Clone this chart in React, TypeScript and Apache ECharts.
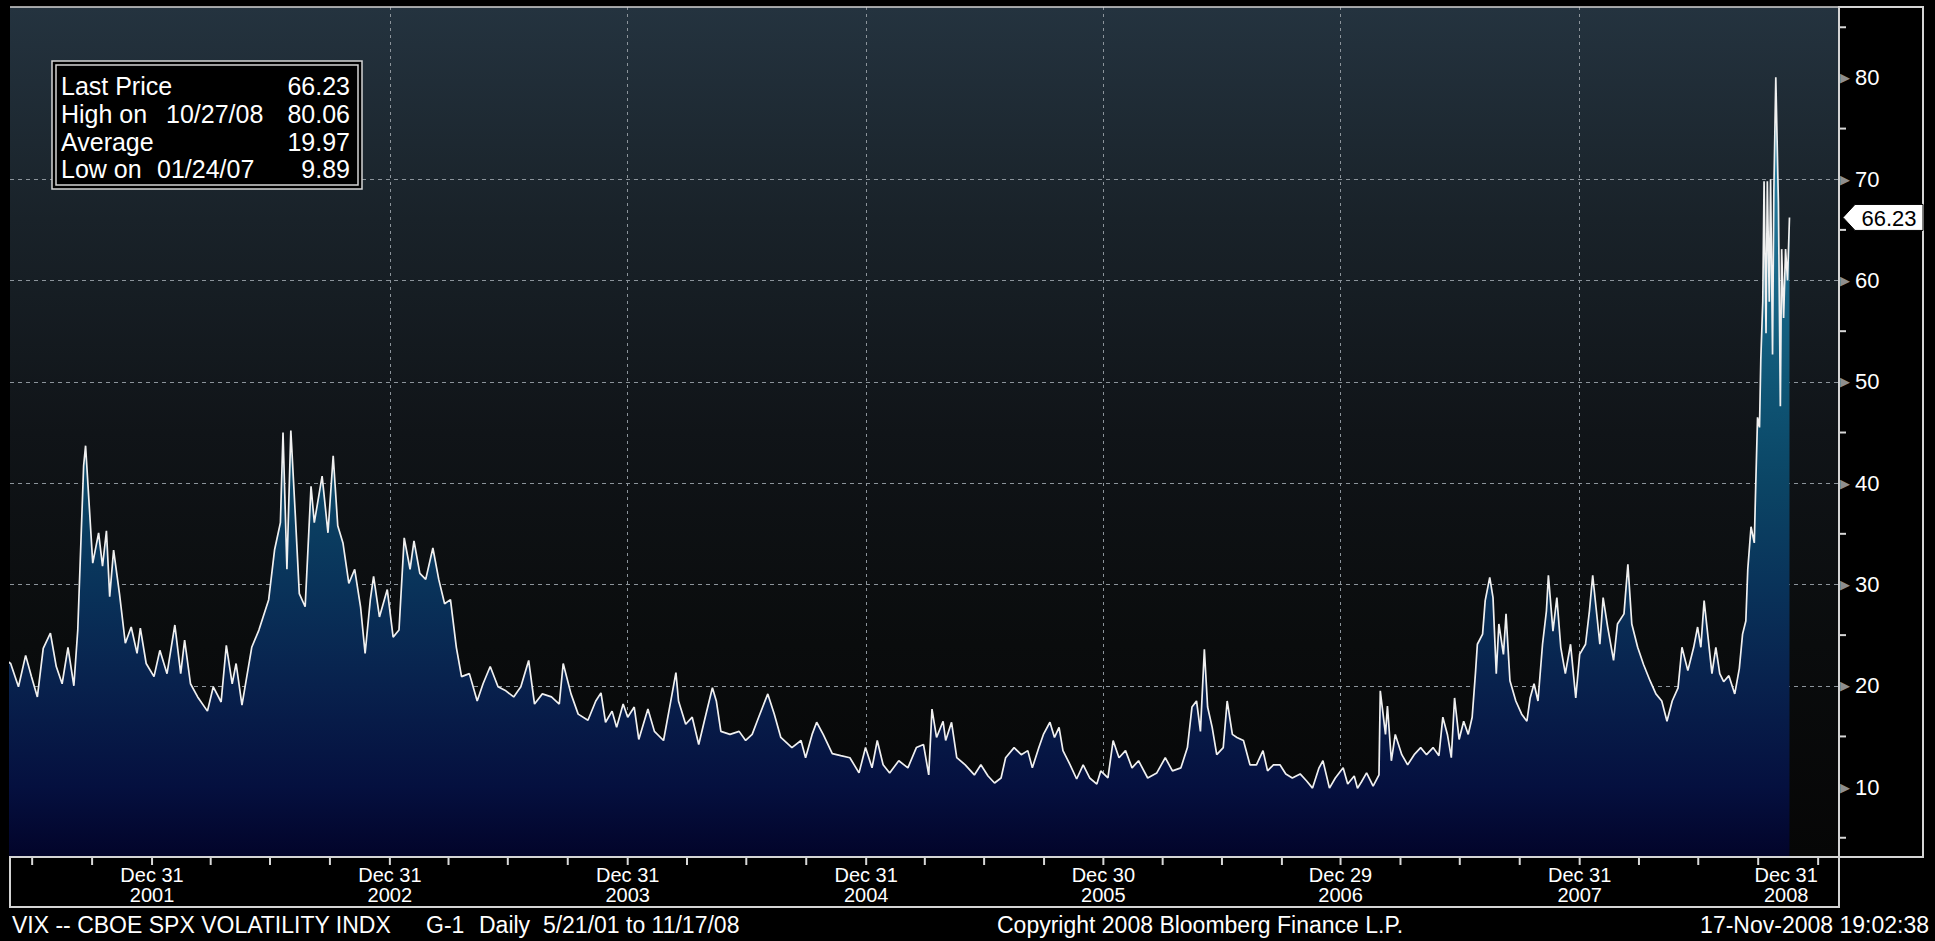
import React, { useEffect, useRef } from 'react';
import * as echarts from 'echarts';

const FONT = "'Liberation Sans', Arial, Helvetica, sans-serif";

// ---- VIX readings (date, value) ----
const VIX_2001: [string, number][] = [
  ['2001-05-21', 22.5], ['2001-05-28', 22.2], ['2001-06-09', 19.9], ['2001-06-20', 23.0], ['2001-06-29', 20.9],
  ['2001-07-08', 18.9], ['2001-07-17', 23.7], ['2001-07-28', 25.2], ['2001-08-06', 21.9], ['2001-08-15', 20.2],
  ['2001-08-24', 23.8], ['2001-09-02', 20.0], ['2001-09-08', 25.5], ['2001-09-17', 41.7], ['2001-09-20', 43.7],
  ['2001-09-25', 38.4], ['2001-10-01', 32.1], ['2001-10-10', 35.1], ['2001-10-16', 31.8], ['2001-10-22', 35.3],
  ['2001-10-27', 28.8], ['2001-11-02', 33.4], ['2001-11-11', 29.1], ['2001-11-20', 24.2], ['2001-11-29', 25.8],
  ['2001-12-08', 23.2], ['2001-12-13', 25.7], ['2001-12-22', 22.2],
];
const VIX_2002: [string, number][] = [
  ['2002-01-03', 20.9], ['2002-01-12', 23.5], ['2002-01-23', 21.2], ['2002-02-04', 26.0], ['2002-02-13', 21.2],
  ['2002-02-19', 24.5], ['2002-02-28', 20.2], ['2002-03-11', 18.9], ['2002-03-26', 17.5], ['2002-04-04', 19.9],
  ['2002-04-16', 18.4], ['2002-04-24', 24.0], ['2002-05-03', 20.2], ['2002-05-09', 22.2], ['2002-05-18', 18.1],
  ['2002-06-02', 23.8], ['2002-06-13', 25.5], ['2002-06-28', 28.5], ['2002-07-07', 33.4], ['2002-07-16', 36.1],
  ['2002-07-20', 45.0], ['2002-07-26', 31.5], ['2002-08-01', 45.2], ['2002-08-08', 36.7], ['2002-08-14', 29.1],
  ['2002-08-23', 27.8], ['2002-09-01', 39.7], ['2002-09-06', 36.1], ['2002-09-18', 40.7], ['2002-09-27', 35.1],
  ['2002-10-05', 42.7], ['2002-10-12', 35.8], ['2002-10-20', 34.1], ['2002-10-29', 30.1], ['2002-11-07', 31.5],
  ['2002-11-16', 27.8], ['2002-11-23', 23.2], ['2002-12-01', 28.5], ['2002-12-06', 30.8], ['2002-12-15', 26.8],
  ['2002-12-27', 29.5],
];
const VIX_2003: [string, number][] = [
  ['2003-01-05', 24.8], ['2003-01-14', 25.5], ['2003-01-22', 34.6], ['2003-01-31', 31.5], ['2003-02-06', 34.3],
  ['2003-02-15', 31.1], ['2003-02-24', 30.5], ['2003-03-07', 33.6], ['2003-03-16', 30.5], ['2003-03-25', 28.1],
  ['2003-04-03', 28.5], ['2003-04-12', 23.8], ['2003-04-20', 20.9], ['2003-05-02', 21.2], ['2003-05-14', 18.5],
  ['2003-05-23', 20.2], ['2003-06-03', 21.9], ['2003-06-15', 19.9], ['2003-06-27', 19.5], ['2003-07-09', 18.9],
  ['2003-07-20', 19.9], ['2003-08-01', 22.5], ['2003-08-10', 18.2], ['2003-08-22', 19.2], ['2003-09-05', 18.9],
  ['2003-09-17', 18.2], ['2003-09-23', 22.2], ['2003-10-05', 19.2], ['2003-10-16', 17.2], ['2003-10-31', 16.6],
  ['2003-11-12', 18.5], ['2003-11-20', 19.3], ['2003-11-27', 16.4], ['2003-12-07', 17.5], ['2003-12-14', 15.9],
  ['2003-12-24', 18.2], ['2003-12-31', 16.9],
];
const VIX_2004: [string, number][] = [
  ['2004-01-10', 17.9], ['2004-01-17', 14.7], ['2004-01-31', 17.7], ['2004-02-10', 15.5], ['2004-02-24', 14.6],
  ['2004-03-07', 18.8], ['2004-03-14', 21.3], ['2004-03-18', 18.5], ['2004-03-29', 16.2], ['2004-04-08', 16.9],
  ['2004-04-18', 14.2], ['2004-04-28', 16.9], ['2004-05-09', 19.8], ['2004-05-15', 18.5], ['2004-05-22', 15.5],
  ['2004-06-05', 15.2], ['2004-06-19', 15.5], ['2004-06-29', 14.6], ['2004-07-09', 15.2], ['2004-07-19', 16.9],
  ['2004-08-02', 19.2], ['2004-08-12', 17.2], ['2004-08-22', 14.9], ['2004-09-08', 13.9], ['2004-09-22', 14.6],
  ['2004-09-29', 12.9], ['2004-10-09', 15.2], ['2004-10-16', 16.4], ['2004-10-26', 15.2], ['2004-11-09', 13.3],
  ['2004-11-22', 13.1], ['2004-12-06', 12.9], ['2004-12-20', 11.4], ['2004-12-30', 13.9],
];
const VIX_2005: [string, number][] = [
  ['2005-01-09', 11.9], ['2005-01-17', 14.6], ['2005-01-26', 12.2], ['2005-02-05', 11.4], ['2005-02-19', 12.6],
  ['2005-03-05', 11.9], ['2005-03-18', 13.9], ['2005-03-29', 14.2], ['2005-04-06', 11.2], ['2005-04-11', 17.7],
  ['2005-04-18', 14.9], ['2005-04-28', 16.5], ['2005-05-02', 14.6], ['2005-05-11', 16.4], ['2005-05-19', 12.9],
  ['2005-06-01', 12.2], ['2005-06-15', 11.2], ['2005-06-25', 12.2], ['2005-07-06', 11.1], ['2005-07-16', 10.4],
  ['2005-07-26', 10.9], ['2005-08-02', 12.9], ['2005-08-15', 13.9], ['2005-08-26', 13.2], ['2005-09-05', 13.6],
  ['2005-09-12', 11.9], ['2005-09-22', 13.9], ['2005-09-29', 15.2], ['2005-10-09', 16.4], ['2005-10-16', 14.9],
  ['2005-10-23', 15.9], ['2005-10-29', 13.6], ['2005-11-09', 12.2], ['2005-11-19', 10.8], ['2005-11-29', 12.2],
  ['2005-12-09', 10.9], ['2005-12-20', 10.3], ['2005-12-26', 11.6],
];
const VIX_2006: [string, number][] = [
  ['2006-01-06', 10.9], ['2006-01-14', 14.6], ['2006-01-23', 12.9], ['2006-02-02', 13.6], ['2006-02-12', 11.9],
  ['2006-02-22', 12.6], ['2006-03-08', 10.9], ['2006-03-22', 11.4], ['2006-04-04', 12.9], ['2006-04-15', 11.6],
  ['2006-04-28', 11.9], ['2006-05-08', 13.9], ['2006-05-15', 17.9], ['2006-05-22', 18.5], ['2006-05-28', 15.5],
  ['2006-06-03', 23.6], ['2006-06-08', 17.9], ['2006-06-15', 15.9], ['2006-06-22', 13.2], ['2006-07-02', 13.9],
  ['2006-07-08', 18.5], ['2006-07-16', 15.2], ['2006-07-23', 14.9], ['2006-08-02', 14.6], ['2006-08-12', 12.2],
  ['2006-08-22', 12.2], ['2006-09-01', 13.6], ['2006-09-08', 11.6], ['2006-09-17', 12.2], ['2006-09-27', 12.2],
  ['2006-10-06', 11.3], ['2006-10-16', 10.9], ['2006-10-28', 11.3], ['2006-11-07', 10.6], ['2006-11-16', 9.9],
  ['2006-11-26', 11.9], ['2006-12-02', 12.6], ['2006-12-12', 9.9], ['2006-12-21', 10.9],
];
const VIX_2007: [string, number][] = [
  ['2007-01-02', 11.9], ['2007-01-09', 10.3], ['2007-01-19', 11.1], ['2007-01-24', 9.89], ['2007-01-30', 10.5],
  ['2007-02-07', 11.4], ['2007-02-17', 10.1], ['2007-02-26', 11.2], ['2007-02-28', 19.5], ['2007-03-08', 15.2],
  ['2007-03-11', 18.0], ['2007-03-17', 12.6], ['2007-03-23', 15.2], ['2007-04-02', 13.2], ['2007-04-11', 12.2],
  ['2007-04-21', 13.2], ['2007-05-01', 13.9], ['2007-05-10', 13.2], ['2007-05-20', 13.9], ['2007-05-29', 13.1],
  ['2007-06-04', 16.9], ['2007-06-11', 15.2], ['2007-06-17', 12.9], ['2007-06-22', 18.8], ['2007-06-29', 14.7],
  ['2007-07-06', 16.5], ['2007-07-13', 15.2], ['2007-07-19', 16.9], ['2007-07-24', 21.2], ['2007-07-27', 24.1],
  ['2007-08-04', 25.1], ['2007-08-08', 28.4], ['2007-08-15', 30.7], ['2007-08-20', 28.7], ['2007-08-25', 21.2],
  ['2007-08-29', 26.1], ['2007-09-05', 23.1], ['2007-09-09', 27.1], ['2007-09-15', 20.5], ['2007-09-24', 18.5],
  ['2007-10-03', 17.2], ['2007-10-11', 16.5], ['2007-10-16', 18.8], ['2007-10-22', 20.2], ['2007-10-28', 18.5],
  ['2007-11-04', 24.1], ['2007-11-10', 27.4], ['2007-11-13', 30.9], ['2007-11-20', 25.4], ['2007-11-26', 28.7],
  ['2007-12-02', 23.8], ['2007-12-09', 21.2], ['2007-12-17', 24.1], ['2007-12-25', 18.8], ['2007-12-31', 23.1],
];
const VIX_2008: [string, number][] = [
  ['2008-01-09', 24.1], ['2008-01-15', 27.4], ['2008-01-20', 30.9], ['2008-01-25', 27.8], ['2008-01-31', 24.1],
  ['2008-02-05', 28.7], ['2008-02-12', 25.8], ['2008-02-21', 22.5], ['2008-02-27', 26.1], ['2008-03-08', 27.1],
  ['2008-03-14', 32.0], ['2008-03-20', 26.1], ['2008-03-29', 23.8], ['2008-04-07', 22.1], ['2008-04-17', 20.5],
  ['2008-04-26', 19.2], ['2008-05-05', 18.5], ['2008-05-13', 16.5], ['2008-05-21', 18.5], ['2008-05-30', 19.8],
  ['2008-06-05', 23.8], ['2008-06-14', 21.5], ['2008-06-23', 23.8], ['2008-06-29', 25.8], ['2008-07-04', 23.8],
  ['2008-07-09', 28.4], ['2008-07-15', 24.8], ['2008-07-21', 21.2], ['2008-07-27', 23.8], ['2008-08-02', 21.2],
  ['2008-08-08', 20.4], ['2008-08-16', 21.0], ['2008-08-25', 19.2], ['2008-09-01', 21.7], ['2008-09-06', 25.1],
  ['2008-09-11', 26.4], ['2008-09-14', 31.5], ['2008-09-19', 35.7], ['2008-09-24', 34.1], ['2008-09-26', 39.3],
  ['2008-09-29', 46.5], ['2008-10-02', 45.5], ['2008-10-04', 52.2], ['2008-10-07', 57.9], ['2008-10-09', 69.8],
  ['2008-10-12', 54.8], ['2008-10-14', 69.8], ['2008-10-17', 57.9], ['2008-10-19', 70.0], ['2008-10-22', 52.7],
  ['2008-10-24', 68.7], ['2008-10-27', 80.06], ['2008-10-31', 67.7], ['2008-11-03', 47.6], ['2008-11-05', 63.1],
  ['2008-11-08', 56.3], ['2008-11-11', 63.1], ['2008-11-14', 60.0], ['2008-11-17', 66.23],
];

const X_TICK_DATES = ['2001-12-31', '2002-12-31', '2003-12-31', '2004-12-31', '2005-12-30', '2006-12-29', '2007-12-31', '2008-12-31'];
const X_TICK_LABELS = ['Dec 31\n2001', 'Dec 31\n2002', 'Dec 31\n2003', 'Dec 31\n2004', 'Dec 30\n2005', 'Dec 29\n2006', 'Dec 31\n2007', 'Dec 31\n2008'];
const Y_TICKS = [10, 20, 30, 40, 50, 60, 70, 80];
const Y_MINOR_TICKS = [5, 15, 25, 35, 45, 55, 65, 75, 85];
const X_RANGE = ['2001-05-27', '2009-02-01'];
const Y_RANGE = [3.1, 87];

const LAST_PRICE = 66.23;
const STAT_LABELS = ['Last Price', 'High on', 'Average', 'Low on'];
const STAT_DATES = ['', '10/27/08', '', '01/24/07'];
const STAT_VALUES = ['66.23', '80.06', '19.97', '9.89'];

const FOOTER_TITLE = 'VIX -- CBOE SPX VOLATILITY INDX';
const FOOTER_GRAPH = 'G-1';
const FOOTER_RANGE = 'Daily  5/21/01 to 11/17/08';
const FOOTER_COPY = 'Copyright 2008 Bloomberg Finance L.P.';
const FOOTER_TIME = '17-Nov-2008 19:02:38';

const DAY = 86400000;

// dates are mapped to a day count so that a plain value axis can carry custom ticks
function dayNum(s: string): number {
  const [y, m, d] = s.split('-').map(Number);
  return Math.round(Date.UTC(y, m - 1, d) / DAY);
}

function quarterEnds(): number[] {
  const out: number[] = [];
  const lo = dayNum(X_RANGE[0]);
  const hi = dayNum(X_RANGE[1]);
  for (let y = 2001; y <= 2009; y++) {
    for (const m of [2, 5, 8, 11]) {
      const t = Math.round(Date.UTC(y, m + 1, 0) / DAY);
      if (t > lo && t < hi) out.push(t);
    }
  }
  return out;
}

const W = 1935;
const H = 941;

export default function App() {
  const ref = useRef<HTMLDivElement>(null);

  useEffect(() => {
    if (!ref.current) return;
    const chart = echarts.init(ref.current, undefined, { renderer: 'svg' });

    const all = [...VIX_2001, ...VIX_2002, ...VIX_2003, ...VIX_2004, ...VIX_2005, ...VIX_2006, ...VIX_2007, ...VIX_2008];
    const data = all.map(([d, v]) => [dayNum(d), v]);
    const yearTicks = X_TICK_DATES.map(dayNum);
    const xMin = dayNum(X_RANGE[0]);
    const xMax = dayNum(X_RANGE[1]);
    // quarter ends, snapped to the labelled year-end trading days
    const qTicks = quarterEnds().map((q) => {
      const y = yearTicks.find((t) => Math.abs(t - q) <= 3);
      return y !== undefined ? y : q;
    });

    const labelText = { color: '#ffffff', fontSize: 20, fontFamily: FONT, lineHeight: 20 };
    const gridLine = { type: [4, 4], color: '#8c949b', width: 1 };
    const tickMark = (d: number[][], size: number[], offset: number[]) => ({
      type: 'scatter', data: d, symbol: 'rect', symbolSize: size, symbolOffset: offset,
      clip: false, silent: true, z: 50,
      itemStyle: { color: '#d8d8d8', opacity: 1 },
      emphasis: { disabled: true },
    });

    chart.setOption({
      animation: false,
      backgroundColor: '#000000',
      grid: {
        left: 10, top: 7, right: 96, bottom: 84,
        show: true, borderWidth: 0,
        outerBoundsMode: 'none',
        backgroundColor: {
          type: 'linear', x: 0, y: 0, x2: 0, y2: 1,
          colorStops: [
            { offset: 0, color: '#24333f' },
            { offset: 0.25, color: '#192229' },
            { offset: 0.5, color: '#101418' },
            { offset: 0.75, color: '#0a0c0d' },
            { offset: 1, color: '#060606' },
          ],
        },
      },
      xAxis: {
        type: 'value', min: xMin, max: xMax, position: 'bottom', scale: true,
        axisLine: { show: true, lineStyle: { color: '#d8d8d8', width: 2 } },
        axisTick: { show: false, customValues: yearTicks },
        axisLabel: {
          customValues: yearTicks,
          margin: 8,
          formatter: (val: number) => {
            const i = yearTicks.findIndex((t) => Math.abs(t - val) < 0.5);
            if (i < 0) return '';
            const [a, b] = X_TICK_LABELS[i].split('\n');
            const key = i === yearTicks.length - 1 ? 'last' : 'lbl';
            return `{${key}|${a}}\n{${key}|${b}}`;
          },
          rich: {
            lbl: { ...labelText },
            last: { ...labelText, padding: [0, 64, 0, 0] },
          },
        },
        splitLine: { show: true, showMinLine: false, showMaxLine: false, lineStyle: { ...gridLine, type: [3, 4] } },
      },
      yAxis: {
        type: 'value', position: 'right', min: Y_RANGE[0], max: Y_RANGE[1],
        axisLine: { show: false },
        axisTick: { show: false, customValues: Y_TICKS },
        axisLabel: {
          customValues: Y_TICKS,
          margin: 1,
          formatter: (v: number) => `{t|▶}{n|${v}}`,
          rich: {
            t: { color: '#8e8e8e', fontSize: 13, fontFamily: 'DejaVu Sans', padding: [0, 5, 0, 0], verticalAlign: 'middle' },
            n: { color: '#ffffff', fontSize: 22, fontFamily: FONT, verticalAlign: 'middle' },
          },
        },
        splitLine: { show: true, showMinLine: false, showMaxLine: false, lineStyle: gridLine },
      },
      series: [
        {
          type: 'line', data,
          showSymbol: false, symbol: 'none', clip: true,
          lineStyle: { color: '#f0f0f0', width: 1.7 },
          areaStyle: {
            opacity: 1,
            color: {
              type: 'linear', x: 0, y: 0, x2: 0, y2: 1,
              colorStops: [
                { offset: 0, color: '#3a90ad' },
                { offset: 0.13, color: '#23789a' },
                { offset: 0.39, color: '#0f5676' },
                { offset: 0.52, color: '#0b4565' },
                { offset: 0.65, color: '#09335a' },
                { offset: 0.78, color: '#08214d' },
                { offset: 0.91, color: '#05103f' },
                { offset: 1, color: '#02042a' },
              ],
            },
          },
        },
        // quarter tick marks hanging under the time axis
        tickMark(qTicks.map((t) => [t, Y_RANGE[0]]), [2, 8], [0, 4]),
        // minor value tick marks to the right of the value axis
        tickMark(Y_MINOR_TICKS.map((v) => [xMax, v]), [7, 2], [3.5, 0]),
      ],
    });

    const py = chart.convertToPixel({ yAxisIndex: 0 }, LAST_PRICE) as number;
    const border = '#d4d4d4';
    const txt = (x: number, y: number, text: string, size: number, align = 'left', fill = '#ffffff') => ({
      type: 'text', x, y, z: 110,
      style: { text, fill, font: `${size}px ${FONT}`, textAlign: align, textVerticalAlign: 'middle' },
    });

    const rows = [86, 114, 142, 169];
    const legend: any[] = [
      { type: 'rect', z: 100, shape: { x: 52, y: 61, width: 310, height: 128 }, style: { fill: '#000000', stroke: border, lineWidth: 1.5 } },
      { type: 'rect', z: 101, shape: { x: 56, y: 65, width: 302, height: 120 }, style: { fill: 'none', stroke: border, lineWidth: 1.5 } },
    ];
    STAT_LABELS.forEach((l, i) => {
      legend.push(txt(61, rows[i], l, 25));
      if (STAT_DATES[i]) legend.push(txt(i === 1 ? 166 : 157, rows[i], STAT_DATES[i], 25));
      legend.push(txt(350, rows[i], STAT_VALUES[i], 25, 'right'));
    });

    chart.setOption({
      graphic: [
        { type: 'line', z: 100, shape: { x1: 10, y1: 7, x2: 1923, y2: 7 }, style: { stroke: border, lineWidth: 1.5 } },
        { type: 'rect', z: 100, shape: { x: 1839, y: 7, width: 84, height: 850 }, style: { fill: 'none', stroke: border, lineWidth: 2 } },
        { type: 'rect', z: 100, shape: { x: 10, y: 857, width: 1829, height: 50 }, style: { fill: 'none', stroke: border, lineWidth: 2 } },
        ...legend,
        {
          type: 'polygon', z: 105,
          shape: { points: [[1843, py], [1855, py - 13], [1923, py - 13], [1923, py + 13], [1855, py + 13]] },
          style: { fill: '#ffffff', stroke: '#000000', lineWidth: 1 },
        },
        txt(1889, py + 1, String(LAST_PRICE), 22, 'center', '#000000'),
        txt(12, 925, FOOTER_TITLE, 23),
        txt(426, 925, FOOTER_GRAPH, 23),
        txt(479, 925, FOOTER_RANGE, 23),
        txt(997, 925, FOOTER_COPY, 23),
        txt(1929, 925, FOOTER_TIME, 23, 'right'),
      ],
    });

    return () => chart.dispose();
  }, []);

  return (
    <div
      ref={ref}
      style={{ position: 'absolute', left: 0, top: 0, width: W, height: H, background: '#000' }}
    />
  );
}
